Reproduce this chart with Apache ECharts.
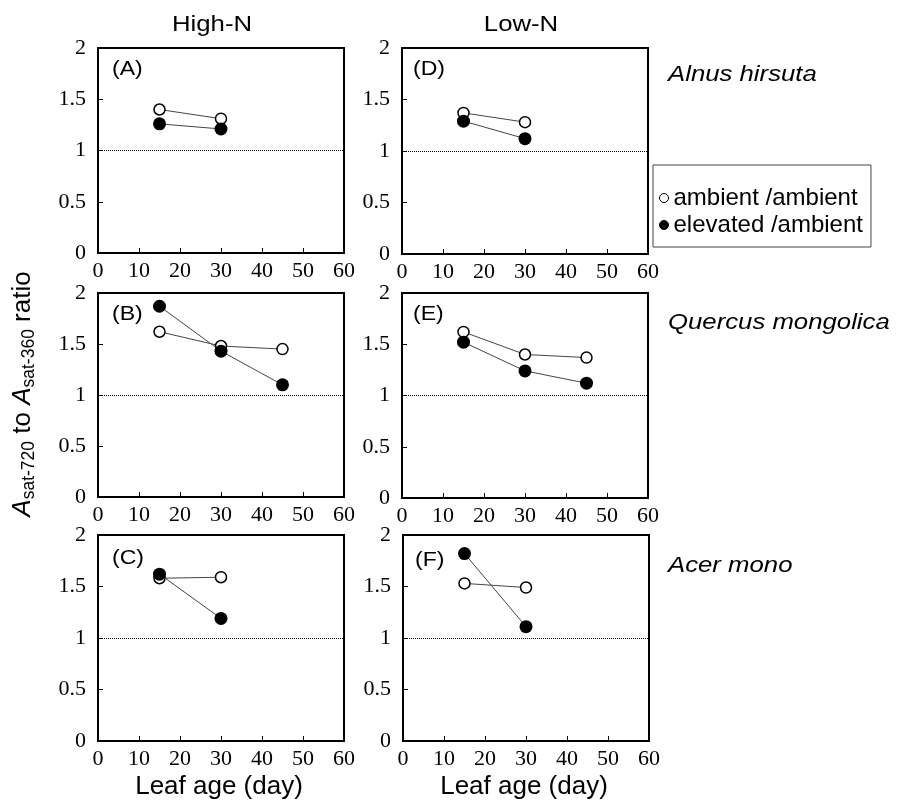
<!DOCTYPE html>
<html>
<head>
<meta charset="utf-8">
<script src="https://cdn.jsdelivr.net/npm/echarts@6/dist/echarts.min.js"></script>
<style>html,body{margin:0;padding:0;background:#fff;}#c{width:898px;height:805px;}</style>
</head>
<body>
<div id="c"></div>
<script>
// ---- data ----
const leafAge = [15, 30, 45];
const panelLabels = ['(A)', '(B)', '(C)', '(D)', '(E)', '(F)'];
const columnTitles = ['High-N', 'Low-N'];
const speciesNames = ['Alnus hirsuta', 'Quercus mongolica', 'Acer mono'];
const seriesNames = ['ambient /ambient', 'elevated /ambient'];
const xTicks = [0, 10, 20, 30, 40, 50, 60];
const yTicks = [0, 0.5, 1, 1.5, 2];
const referenceRatio = 1;

// High-N
const ambA = [1.40, 1.31];
const elevA = [1.26, 1.21];
const ambB = [1.62, 1.48, 1.45];
const elevB = [1.87, 1.43, 1.10];
const ambC = [1.58, 1.59];
const elevC = [1.62, 1.19];
// Low-N
const ambD = [1.37, 1.28];
const elevD = [1.29, 1.12];
const ambE = [1.62, 1.40, 1.37];
const elevE = [1.52, 1.24, 1.12];
const ambF = [1.53, 1.49];
const elevF = [1.82, 1.11];

const ambAll = [ambA, ambB, ambC, ambD, ambE, ambF];
const elevAll = [elevA, elevB, elevC, elevD, elevE, elevF];

// ---- layout ----
const boxes = [
  [98, 48, 246, 205],
  [98, 293, 246, 204],
  [98, 535, 246, 206],
  [402, 48, 246, 206],
  [402, 293, 246, 205],
  [403, 535, 246, 206]
];

const SANS = '"Liberation Sans", Arial, sans-serif';
const SERIF = '"Liberation Serif", "Times New Roman", serif';

const grid = [], xAxis = [], yAxis = [], series = [];
boxes.forEach((b, i) => {
  grid.push({ left: b[0], top: b[1], width: b[2], height: b[3], show: true,
    borderColor: '#000', borderWidth: 2, backgroundColor: 'transparent', containLabel: false });
  xAxis.push({ gridIndex: i, type: 'value', min: xTicks[0], max: xTicks[xTicks.length - 1],
    interval: xTicks[1] - xTicks[0],
    axisLine: { show: true, onZero: false, lineStyle: { color: '#000', width: 2 } },
    axisTick: { show: true, inside: true, length: 5, lineStyle: { color: '#000', width: 1 } },
    axisLabel: { color: '#000', fontFamily: SERIF, fontSize: 22, margin: 7 },
    splitLine: { show: false } });
  yAxis.push({ gridIndex: i, type: 'value', min: yTicks[0], max: yTicks[yTicks.length - 1],
    interval: yTicks[1] - yTicks[0],
    axisLine: { show: true, onZero: false, lineStyle: { color: '#000', width: 2 } },
    axisTick: { show: true, inside: true, length: 5, lineStyle: { color: '#000', width: 1 } },
    axisLabel: { color: '#000', fontFamily: SERIF, fontSize: 22, margin: 12 },
    splitLine: { show: false } });
  const amb = ambAll[i], elev = elevAll[i];
  series.push({
    type: 'line', name: seriesNames[0], xAxisIndex: i, yAxisIndex: i,
    data: amb.map((v, k) => [leafAge[k], v]),
    symbol: 'circle', symbolSize: 11,
    itemStyle: { color: '#fff', borderColor: '#000', borderWidth: 1.5 },
    lineStyle: { color: '#444', width: 1 },
    emphasis: { disabled: true }, z: 3,
    markLine: { silent: true, symbol: ['none', 'none'], label: { show: false },
      lineStyle: { type: [1, 1], color: '#000', width: 1 },
      emphasis: { disabled: true },
      data: [{ yAxis: referenceRatio }] }
  });
  series.push({
    type: 'line', name: seriesNames[1], xAxisIndex: i, yAxisIndex: i,
    data: elev.map((v, k) => [leafAge[k], v]),
    symbol: 'circle', symbolSize: 13,
    itemStyle: { color: '#000', borderColor: '#000', borderWidth: 0 },
    lineStyle: { color: '#444', width: 1 },
    emphasis: { disabled: true }, z: 4
  });
});

function txt(text, x, y, size, opts) {
  opts = opts || {};
  return {
    type: 'text', x: x, y: y, scaleX: opts.scaleX || 1, silent: true,
    style: {
      text: text, fill: '#000', fontSize: size, fontFamily: opts.family || SANS,
      fontStyle: opts.italic ? 'italic' : 'normal',
      align: opts.align || 'left', verticalAlign: 'middle',
      textAlign: opts.align || 'left', textVerticalAlign: 'middle'
    }
  };
}

const labelPos = [[112, 69], [112, 314], [112, 558], [413, 69], [413, 314], [415, 560]];
const graphic = [];
panelLabels.forEach((t, i) => graphic.push(txt(t, labelPos[i][0], labelPos[i][1], 21, { scaleX: 1.1 })));
graphic.push(txt(columnTitles[0], 212, 25, 22, { align: 'center', scaleX: 1.17 }));
graphic.push(txt(columnTitles[1], 521, 25, 22, { align: 'center', scaleX: 1.17 }));
const spY = [75, 323, 566];
speciesNames.forEach((t, i) => graphic.push(txt(t, 668, spY[i], 22, { italic: true, scaleX: 1.17 })));
graphic.push(txt('Leaf age (day)', 219, 787, 25, { align: 'center', scaleX: 1.04 }));
graphic.push(txt('Leaf age (day)', 524, 787, 25, { align: 'center', scaleX: 1.04 }));
graphic.push({
  type: 'text', x: 23, y: 394, rotation: Math.PI / 2, silent: true,
  style: {
    text: '{a|A}{s|sat-720}{n| to }{a|A}{s|sat-360}{n| ratio}',
    align: 'center', verticalAlign: 'middle', textAlign: 'center', textVerticalAlign: 'middle',
    fill: '#000', fontFamily: SANS,
    rich: {
      a: { fontSize: 26, fontStyle: 'italic', fontFamily: SANS, lineHeight: 30, fill: '#000', color: '#000' },
      n: { fontSize: 26, fontFamily: SANS, lineHeight: 30, fill: '#000', color: '#000' },
      s: { fontSize: 17.5, fontFamily: SANS, lineHeight: 16, verticalAlign: 'bottom', fill: '#000', color: '#000' }
    }
  }
});

const chart = echarts.init(document.getElementById('c'), null, { renderer: 'canvas' });
chart.setOption({
  animation: false,
  backgroundColor: '#fff',
  grid, xAxis, yAxis, series, graphic,
  legend: {
    data: seriesNames, orient: 'vertical', left: 653, top: 165,
    icon: 'circle', itemWidth: 9, itemHeight: 9, itemGap: 3,
    padding: [21, 8, 10, 6],
    borderColor: '#444', borderWidth: 1, backgroundColor: '#fff',
    itemStyle: { borderWidth: 1 },
    textStyle: { fontFamily: SANS, fontSize: 24, color: '#000' },
    selectedMode: false
  }
});
</script>
</body>
</html>
